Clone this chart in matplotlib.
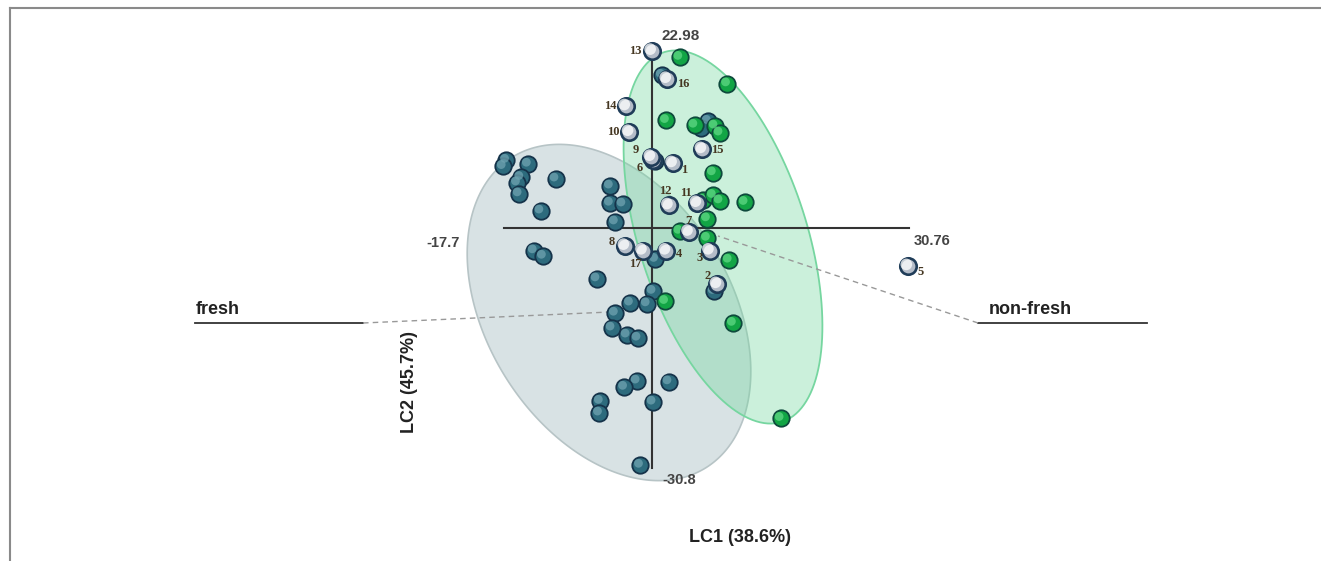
import numpy as np
import matplotlib.pyplot as plt
from matplotlib.lines import Line2D
from matplotlib.transforms import offset_copy

plt.rcParams['font.family'] = ['Liberation Sans', 'DejaVu Sans']

# scores on LC1 / LC2
fresh_x = [1.2, 6.7, 5.9, 0.4, -17.4, -17.8, -14.8, -15.7, -16.1, -15.9, -11.5, -13.3,
           -5.0, -5.0, -3.5, -4.4, -14.1, -13.0, 0.4, -6.6, 7.4, 0.1, -2.6, -0.6, -4.4,
           -4.8, -3.0, -1.7, -1.8, -3.3, 2.0, -6.2, -6.3, 0.1, -1.4]
fresh_y = [19.6, 13.7, 12.8, 8.6, 8.7, 7.9, 8.2, 6.5, 5.8, 4.4, 6.3, 2.2,
           5.4, 3.2, 3.1, 0.8, -2.9, -3.6, -4.0, -6.5, -8.1, -8.1, -9.6, -9.7, -10.9,
           -12.8, -13.7, -14.1, -19.6, -20.4, -19.7, -22.2, -23.7, -22.3, -30.4]

nonfresh_x = [3.3, 9.0, 1.7, 5.1, 7.5, 8.1, 7.3, 6.1, 7.3, 8.1, 11.1, 6.6, 3.3, 6.6,
              9.2, 1.6, 9.7, 15.4]
nonfresh_y = [21.9, 18.5, 13.8, 13.2, 13.1, 12.2, 7.1, 3.6, 4.2, 3.5, 3.3, 1.2, -0.4, -1.3,
              -4.1, -9.4, -12.2, -24.4]

sample_ids = ['6', '13', '16', '14', '10', '9', '1', '15', '12', '11', '7', '8', '17', '4', '3', '2', '5']
sample_x = [0.1, 0.0, 1.8, -3.1, -2.7, -0.1, 2.5, 6.0, 2.0, 5.4, 4.4, -3.2, -1.1, 1.7, 6.9, 7.8, 30.6]
sample_y = [8.7, 22.7, 19.1, 15.6, 12.3, 9.1, 8.3, 10.1, 2.9, 3.2, -0.5, -2.3, -2.9, -2.9, -2.9, -7.2, -4.9]
label_off = [(-13, -8), (-17, 0), (16, -5), (-16, 0), (-16, 0), (-15, 7), (11, -7), (15, -1),
             (-3, 14), (-11, 10), (0, 11), (-13, 4), (-7, -13), (13, -3), (-10, -7), (-10, 8), (13, -6)]

lc1_range = (-17.7, 30.76)
lc2_range = (-30.8, 22.98)

# pixel scale of the picture
sx, sy = 8.37, 7.8
ox, oy = 652, 228


def px(x, y):
    return (x - ox) / sx, (oy - y) / sy


def ellipse(cx, cy, a, b, ang):
    t = np.linspace(0, 2 * np.pi, 300)
    c, s = np.cos(np.radians(ang)), np.sin(np.radians(ang))
    dx = a * np.cos(t) * c - b * np.sin(t) * s
    dy = a * np.cos(t) * s + b * np.sin(t) * c
    return (cx - ox + dx) / sx, (oy - cy - dy) / sy


fig = plt.figure(figsize=(13.21, 5.61), dpi=100)
ax = fig.add_axes([0, 0, 1, 1])
ax.set_xlim(-ox / sx, (1321 - ox) / sx)
ax.set_ylim((oy - 561) / sy, oy / sy)
ax.axis('off')

# frame lines on top and left
fig.add_artist(Line2D([10 / 1321, 1], [1 - 7.5 / 561, 1 - 7.5 / 561], color='#8a8a8a', lw=1.5))
fig.add_artist(Line2D([10 / 1321, 10 / 1321], [0, 1 - 7.5 / 561], color='#8a8a8a', lw=1.5))

ex, ey = ellipse(609, 312.5, 183, 122, 58)
ax.fill(ex, ey, facecolor='#d8e2e4', edgecolor='#b7c4c6', lw=1.2, zorder=1)
ex, ey = ellipse(723, 237, 194, 84, 72.3)
ax.fill(ex, ey, facecolor='#6fd89c', alpha=0.36, edgecolor='none', zorder=2)
ax.plot(ex, ey, color='#76d6a0', lw=1.3, zorder=2)

# axes of the score plot
ax.plot(lc1_range, [0, 0], color='#333333', lw=1.5, zorder=3)
ax.plot([0, 0], lc2_range, color='#333333', lw=1.5, zorder=3)

# fresh / non-fresh direction lines
ax.plot(*zip(px(195, 323), px(363, 323)), color='#333333', lw=1.3)
ax.plot(*zip(px(363, 323), px(610, 312)), color='#999999', lw=1.0, ls=(0, (4, 3)), zorder=2)
ax.plot(*zip(px(978, 323), px(1147, 323)), color='#333333', lw=1.3)
ax.plot(*zip(px(978, 323), px(718, 236)), color='#999999', lw=1.0, ls=(0, (4, 3)), zorder=2)


def spheres(x, y, face, edge, light, z, lw=1.3, big=40):
    ax.scatter(x, y, s=140, c=face, edgecolors=edge, linewidths=lw, zorder=z)
    tr = offset_copy(ax.transData, fig=fig, x=-1.3, y=1.3, units='points')
    ax.scatter(x, y, s=big, c=light, edgecolors='none', alpha=0.75, transform=tr, zorder=z + 0.1)


spheres(fresh_x, fresh_y, '#2d6b7d', '#15334a', '#6fa3b0', 5)
spheres(nonfresh_x, nonfresh_y, '#12a545', '#0e4a3c', '#5fd884', 6)
for i in range(len(sample_ids)):
    spheres([sample_x[i]], [sample_y[i]], '#b4bcc8', '#1f3c58', '#ffffff', 7 + i * 0.2, lw=1.9, big=70)
    ax.annotate(sample_ids[i], (sample_x[i], sample_y[i]),
                xytext=(label_off[i][0] * 0.72, label_off[i][1] * 0.72), textcoords='offset points',
                ha='center', va='center', fontsize=9, fontweight='bold', color='#453722',
                family=['Liberation Serif', 'DejaVu Serif'], zorder=12)

ax.text(*px(681, 36), '22.98', ha='center', va='center', fontsize=11, fontweight='bold', color='#444444')
ax.text(*px(443, 243), '-17.7', ha='center', va='center', fontsize=10.5, fontweight='bold', color='#444444')
ax.text(*px(932, 241), '30.76', ha='center', va='center', fontsize=10.5, fontweight='bold', color='#444444')
ax.text(*px(679, 480), '-30.8', ha='center', va='center', fontsize=10.5, fontweight='bold', color='#444444')

ax.text(*px(740, 537), 'LC1 (38.6%)', ha='center', va='center', fontsize=13, fontweight='bold', color='#222222')
ax.text(*px(410, 382), 'LC2 (45.7%)', ha='center', va='center', rotation=90, fontsize=13,
        fontweight='bold', color='#222222')
ax.text(*px(196, 310), 'fresh', ha='left', va='center', fontsize=13, fontweight='bold', color='#222222')
ax.text(*px(989, 310), 'non-fresh', ha='left', va='center', fontsize=13, fontweight='bold', color='#222222')

plt.savefig('out.png', dpi=100)
